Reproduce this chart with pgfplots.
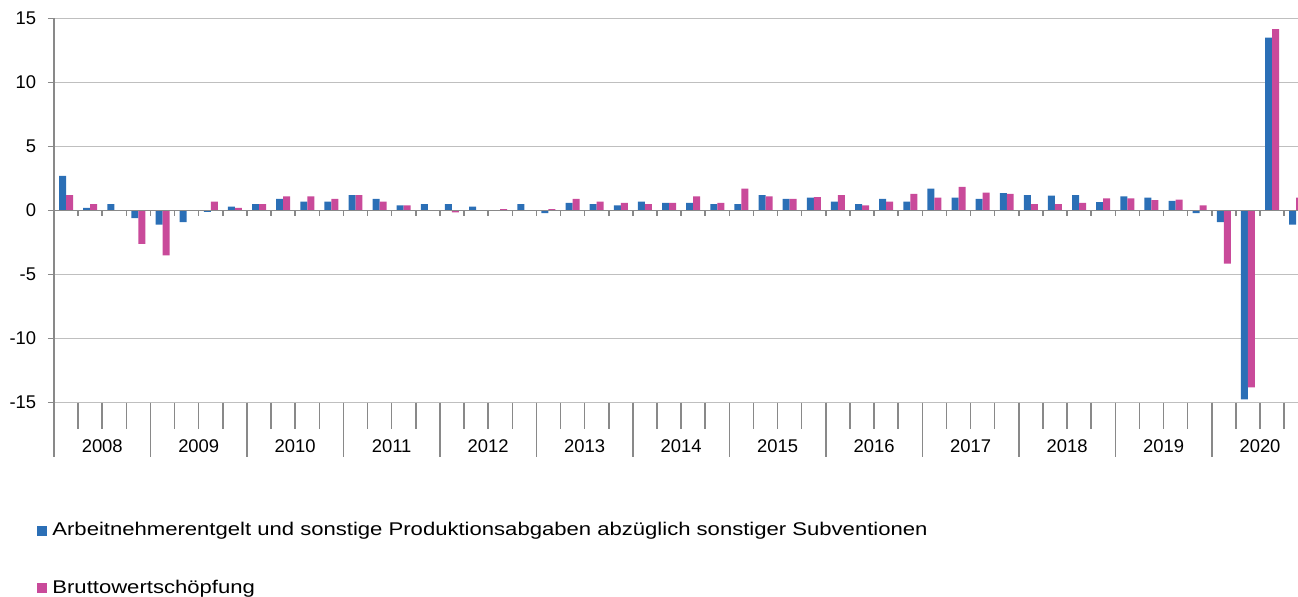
\documentclass[border=0pt]{standalone}
\usepackage{pgfplots}
\usepackage{pgfplotstable}
\pgfplotsset{compat=1.18}
\usepackage{fontspec}
\setmainfont{Liberation Sans}
\newfontfamily\legfont{Liberation Sans}[FakeStretch=1.2]

\definecolor{serA}{RGB}{43,111,182}
\definecolor{serB}{RGB}{201,74,154}
\definecolor{gridgray}{RGB}{191,191,191}
\definecolor{axgray}{RGB}{137,137,137}

% quarter index (0 = 2008 Q1) and change in %
\pgfplotstableread{
q    arb    bws
0    2.7    1.2
1    0.2    0.5
2    0.5    0.0
3   -0.6   -2.6
4   -1.1   -3.5
5   -0.9    0.0
6   -0.1    0.7
7    0.3    0.2
8    0.5    0.5
9    0.9    1.1
10   0.7    1.1
11   0.7    0.9
12   1.2    1.2
13   0.9    0.7
14   0.4    0.4
15   0.5    0.0
16   0.5   -0.15
17   0.3    0.0
18   0.0    0.1
19   0.5    0.0
20  -0.2    0.1
21   0.6    0.9
22   0.5    0.7
23   0.4    0.6
24   0.7    0.5
25   0.6    0.6
26   0.6    1.1
27   0.5    0.6
28   0.5    1.7
29   1.2    1.1
30   0.9    0.9
31   1.0    1.05
32   0.7    1.2
33   0.5    0.4
34   0.9    0.7
35   0.7    1.3
36   1.7    1.0
37   1.0    1.85
38   0.9    1.4
39   1.35   1.3
40   1.2    0.5
41   1.15   0.5
42   1.2    0.6
43   0.65   0.95
44   1.1    0.95
45   1.0    0.8
46   0.75   0.85
47  -0.2    0.4
48  -0.9   -4.15
49  -14.75 -13.8
50   13.5   14.15
51  -1.1    1.0
}\quarters

\begin{document}
\fontsize{9.2}{11}\selectfont
\begin{tikzpicture}[x=0.5pt, y=0.5pt]
\begin{axis}[
  at={(27pt,193.25pt)}, anchor=origin,
  scale only axis,
  width=622pt, height=192.2pt,
  xmin=0, xmax=51.575,
  ymin=-15, ymax=15,
  enlargelimits=false,
  clip mode=individual,
  axis x line=none,
  axis y line*=left,
  axis line style={draw=axgray, line width=0.75pt},
  ytick={-15,-10,...,15},
  yticklabels={-15,-10,-5,0,5,10,15},
  tick align=outside,
  major tick length=3pt,
  tick style={draw=axgray, line width=0.75pt},
  yticklabel style={anchor=east, inner sep=0pt, xshift=-5.75pt, font=\fontsize{9.2}{11}\selectfont},
  xtick=\empty,
  ymajorgrids=true,
  grid style={draw=gridgray, line width=0.75pt},
]
\addplot[ybar, bar width=0.29, bar shift=-0.145, fill=serA, draw=none]
  table[x expr=\thisrow{q}+0.5, y=arb] {\quarters};
\addplot[ybar, bar width=0.29, bar shift=0.145, fill=serB, draw=none]
  table[x expr=\thisrow{q}+0.5, y=bws] {\quarters};

% zero line with quarter ticks
\draw[axgray, line width=0.75pt] (axis cs:0,0) -- (axis cs:51.575,0);
\pgfplotsinvokeforeach{1,...,51}{
  \draw[axgray, line width=0.75pt] (axis cs:#1,0) -- ++(0pt,-2.7pt);
  \draw[axgray, line width=0.75pt] (axis cs:#1,-15) -- ++(0pt,-13.3pt);
}
% year separators
\pgfplotsinvokeforeach{0,4,...,48}{
  \draw[axgray, line width=0.75pt] (axis cs:#1,-15) -- ++(0pt,-27pt);
}
% year labels
\pgfplotsinvokeforeach{0,...,12}{
  \node[anchor=center, inner sep=0pt] at ([yshift=-21.7pt]axis cs:4*#1+2,-15)
    {\pgfmathtruncatemacro{\yr}{2008+#1}\yr};
}
\end{axis}

% legend
\fill[serA] (37,71) rectangle (47,61);
\node[anchor=base west, inner sep=0pt, font=\legfont] at (52,61)
  {Arbeitnehmerentgelt und sonstige Produktionsabgaben abzüglich sonstiger Subventionen};
\fill[serB] (37,14) rectangle (47,4);
\node[anchor=base west, inner sep=0pt, font=\legfont] at (52,3) {Bruttowertschöpfung};

\pgfresetboundingbox
\path[use as bounding box] (0,0) rectangle (1298,597);
\end{tikzpicture}
\end{document}
